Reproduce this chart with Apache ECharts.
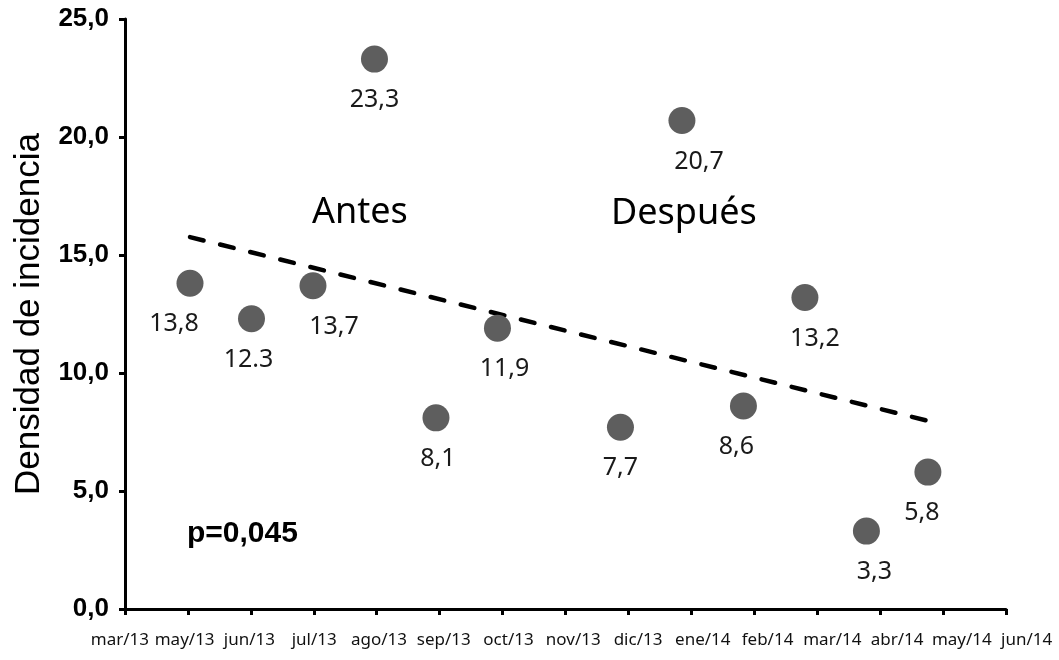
<!DOCTYPE html>
<html>
<head>
<meta charset="utf-8">
<script src="https://cdn.jsdelivr.net/npm/echarts@6/dist/echarts.min.js"></script>
<style>
  html, body { margin: 0; padding: 0; background: #fff; }
  #chart { width: 1059px; height: 660px; }
</style>
</head>
<body>
<div id="chart"></div>
<script>
// Month labels along the bottom axis
const monthLabels = ['mar/13', 'may/13', 'jun/13', 'jul/13', 'ago/13', 'sep/13', 'oct/13',
  'nov/13', 'dic/13', 'ene/14', 'feb/14', 'mar/14', 'abr/14', 'may/14', 'jun/14'];

// Position of each monthly point on the month scale and its incidence density
const pointMonth = [1, 2, 3, 4, 5, 6, 8, 9, 10, 11, 12, 13];
const density = [13.8, 12.3, 13.7, 23.3, 8.1, 11.9, 7.7, 20.7, 8.6, 13.2, 3.3, 5.8];
// Printed value labels
const densityText = ['13,8', '12.3', '13,7', '23,3', '8,1', '11,9', '7,7', '20,7', '8,6', '13,2', '3,3', '5,8'];

// Y-axis ticks
const yTicks = { min: 0, max: 25, step: 5 };

// Horizontal nudges for the value labels (px)
const labelNudge = [-16, -3, 21, 0, 2, 7, 0, 17, -7, 10, 8, -6];

// Least-squares trend line over the monthly points
function trend(xs, ys) {
  const n = xs.length;
  const mx = xs.reduce((a, b) => a + b, 0) / n;
  const my = ys.reduce((a, b) => a + b, 0) / n;
  let sxy = 0, sxx = 0;
  for (let i = 0; i < n; i++) {
    sxy += (xs[i] - mx) * (ys[i] - my);
    sxx += (xs[i] - mx) * (xs[i] - mx);
  }
  const b = sxy / sxx, a = my - b * mx;
  const x0 = xs[0], x1 = xs[n - 1];
  return [[x0, a + b * x0], [x1, a + b * x1]];
}

const comma = v => v.toFixed(1).replace('.', ',');

const chart = echarts.init(document.getElementById('chart'), null, { renderer: 'canvas' });

const points = density.map((v, i) => ({
  value: [pointMonth[i], v],
  label: { offset: [labelNudge[i], 0] }
}));

chart.setOption({
  animation: false,
  backgroundColor: '#ffffff',
  grid: [
    { left: 125, right: 53, top: 19, bottom: 51, containLabel: false },
    // band that carries the evenly spread month labels
    { left: 87.5, right: -3.5, top: 19, bottom: 51, containLabel: false }
  ],
  xAxis: [
    {
      type: 'value', gridIndex: 0, min: 0, max: monthLabels.length - 1, interval: 1,
      axisLine: { show: true, onZero: false, lineStyle: { color: '#000', width: 3 } },
      axisTick: { show: true, length: 6, lineStyle: { color: '#000', width: 3 } },
      splitLine: { show: false },
      axisLabel: { show: false }
    },
    {
      // plotting scale for the monthly points
      type: 'value', gridIndex: 0, min: -0.057, max: 14.27, show: false
    },
    {
      type: 'category', gridIndex: 1, data: monthLabels, boundaryGap: true,
      axisLine: { show: false }, axisTick: { show: false }, splitLine: { show: false },
      axisLabel: {
        interval: 0, fontFamily: 'Noto Sans', fontSize: 17, color: '#111', margin: 23
      }
    }
  ],
  yAxis: [
    {
      type: 'value', gridIndex: 0, min: yTicks.min, max: yTicks.max, interval: yTicks.step,
      name: 'Densidad de incidencia', nameLocation: 'middle', nameRotate: 90, nameGap: 78,
      nameTextStyle: { fontFamily: 'Liberation Sans', fontSize: 35, color: '#000' },
      axisLine: { show: true, lineStyle: { color: '#000', width: 3 } },
      axisTick: { show: true, length: 6, lineStyle: { color: '#000', width: 3 } },
      splitLine: { show: false },
      axisLabel: {
        formatter: comma,
        fontFamily: 'Liberation Sans', fontWeight: 'bold', fontSize: 26, color: '#000', margin: 16
      }
    },
    { type: 'value', gridIndex: 1, min: 0, max: 1, show: false }
  ],
  series: [
    {
      type: 'line', xAxisIndex: 1, yAxisIndex: 0, data: trend(pointMonth, density),
      symbol: 'none', silent: true,
      lineStyle: { color: '#000', width: 4.5, type: [14, 17], cap: 'round' },
      z: 2
    },
    {
      type: 'scatter', xAxisIndex: 1, yAxisIndex: 0, data: points,
      symbol: 'circle', symbolSize: 27,
      itemStyle: { color: '#5e5e5e', opacity: 1 },
      label: {
        show: true, position: 'bottom', distance: 15,
        formatter: p => densityText[p.dataIndex],
        fontFamily: 'Noto Sans', fontSize: 25, color: '#1a1a1a'
      },
      z: 3
    }
  ],
  graphic: [
    { type: 'text', left: 312, top: 195, style: { text: 'Antes', font: '36px "Noto Sans"', fill: '#000' } },
    { type: 'text', left: 611, top: 196, style: { text: 'Después', font: '36px "Noto Sans"', fill: '#000' } },
    { type: 'text', left: 187, top: 519, style: { text: 'p=0,045', font: 'bold 30px "Liberation Sans"', fill: '#000' } }
  ]
});
</script>
</body>
</html>
